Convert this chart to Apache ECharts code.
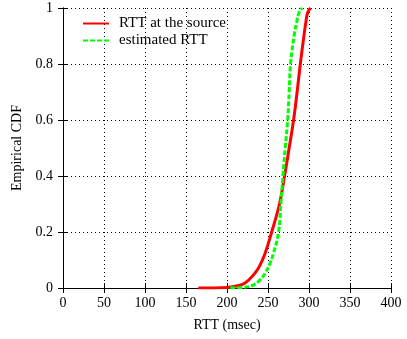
<!DOCTYPE html>
<html>
<head>
<meta charset="utf-8">
<script src="https://cdn.jsdelivr.net/npm/echarts@6/dist/echarts.min.js"></script>
<style>
  html, body { margin: 0; padding: 0; background: #fff; }
  #charts { width: 407px; height: 339px; }
</style>
</head>
<body>
<div id="charts"></div>
<script>
    var xTicks = [0, 50, 100, 150, 200, 250, 300, 350, 400];
    var yTicks = [0, 0.2, 0.4, 0.6, 0.8, 1];

    // RTT at the source (msec) vs CDF
    var srcRtt = [165, 200, 210, 222, 234, 240, 246.6, 254.5, 264, 270.2, 275.8, 281.2, 285.5, 289.4, 293.8, 296.2, 298.5, 302];
    var srcCdf = [0, 0.002, 0.006, 0.018, 0.053, 0.08, 0.125, 0.2, 0.3, 0.4, 0.5, 0.6, 0.7, 0.8, 0.9, 0.95, 0.985, 1];

    // estimated RTT (msec) vs CDF
    var estRtt = [204, 218, 230, 240, 246.6, 252, 256.8, 262.9, 265.7, 268.2, 271, 274, 275.8, 277.5, 281.8, 285, 288, 291.5];
    var estCdf = [0, 0.002, 0.008, 0.028, 0.053, 0.085, 0.125, 0.2, 0.3, 0.4, 0.5, 0.6, 0.7, 0.8, 0.9, 0.95, 0.985, 1];

    function pairs(xs, ys) {
        var out = [];
        for (var i = 0; i < xs.length; i++) {
            out.push([xs[i], ys[i]]);
        }
        return out;
    }

    var font = '"Liberation Serif", "DejaVu Serif", serif';
    var dotted = { color: '#000', width: 1, type: [1, 3] };

    var myChart = echarts.init(document.getElementById('charts'));
    myChart.setOption({
        animation: false,
        textStyle: { fontFamily: font, color: '#000' },
        grid: { left: 63, right: 16, top: 8, bottom: 51 },
        legend: {
            orient: 'vertical',
            left: 82,
            top: 16,
            padding: 0,
            itemWidth: 26,
            itemHeight: 10,
            itemGap: 2,
            itemStyle: { opacity: 0 },
            textStyle: { fontFamily: font, fontSize: 15, color: '#000', padding: [0, 0, 0, 5] },
            data: ['RTT at the source', 'estimated RTT']
        },
        xAxis: [{
            type: 'value',
            min: xTicks[0],
            max: xTicks[xTicks.length - 1],
            interval: 50,
            name: 'RTT (msec)',
            nameLocation: 'middle',
            nameGap: 30,
            nameTextStyle: { fontFamily: font, fontSize: 14, color: '#000' },
            axisLine: { lineStyle: { color: '#000', width: 1 } },
            axisTick: { inside: true, length: 5, lineStyle: { color: '#000' } },
            axisLabel: { fontFamily: font, fontSize: 14, color: '#000', margin: 8 },
            splitLine: { show: true, lineStyle: dotted }
        }, {
            type: 'value',
            position: 'top',
            min: xTicks[0],
            max: xTicks[xTicks.length - 1],
            interval: 50,
            axisLine: { show: true, lineStyle: { color: '#000', width: 1 } },
            axisTick: { show: true, inside: true, length: 5, lineStyle: { color: '#000' } },
            axisLabel: { show: false },
            splitLine: { show: false }
        }],
        yAxis: [{
            type: 'value',
            min: yTicks[0],
            max: yTicks[yTicks.length - 1],
            interval: 0.2,
            name: 'Empirical CDF',
            nameLocation: 'middle',
            nameGap: 37,
            nameTextStyle: { fontFamily: font, fontSize: 14, color: '#000' },
            axisLine: { show: true, lineStyle: { color: '#000', width: 1 } },
            axisTick: { show: true, inside: true, length: 5, lineStyle: { color: '#000' } },
            axisLabel: {
                fontFamily: font, fontSize: 14, color: '#000', margin: 10,
                formatter: function (v) { return String(Math.round(v * 10) / 10); }
            },
            splitLine: { show: true, lineStyle: dotted }
        }, {
            type: 'value',
            position: 'right',
            min: yTicks[0],
            max: yTicks[yTicks.length - 1],
            interval: 0.2,
            axisLine: { show: true, lineStyle: { color: '#000', width: 1 } },
            axisTick: { show: true, inside: true, length: 5, lineStyle: { color: '#000' } },
            axisLabel: { show: false },
            splitLine: { show: false }
        }],
        series: [
            {
                name: 'RTT at the source',
                type: 'line',
                symbol: 'none',
                smooth: 0.4,
                lineStyle: { color: '#ff0000', width: 3 },
                itemStyle: { color: '#ff0000' },
                data: pairs(srcRtt, srcCdf)
            },
            {
                name: 'estimated RTT',
                type: 'line',
                symbol: 'none',
                smooth: 0.4,
                lineStyle: { color: '#00ff00', width: 3, type: [5, 2] },
                itemStyle: { color: '#00ff00' },
                data: pairs(estRtt, estCdf)
            }
        ]
    });
</script>
</body>
</html>
